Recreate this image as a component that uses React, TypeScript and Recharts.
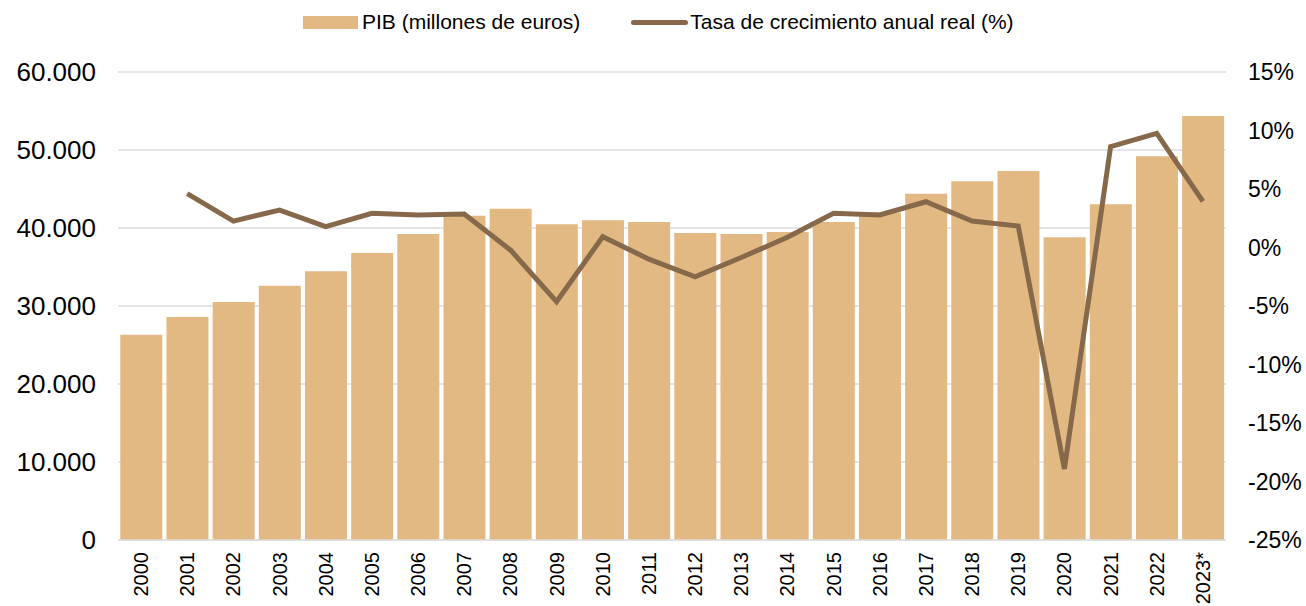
import React from "react";
import {
  ComposedChart,
  Bar,
  Line,
  XAxis,
  YAxis,
  CartesianGrid,
  Legend
} from "recharts";

/* ---------------- DATA ---------------- */

const years = [
  "2000", "2001", "2002", "2003", "2004", "2005", "2006", "2007",
  "2008", "2009", "2010", "2011", "2012", "2013", "2014", "2015",
  "2016", "2017", "2018", "2019", "2020", "2021", "2022", "2023*"
];

// PIB (millones de euros)
const pib = [
  26300, 28600, 30500, 32600, 34450, 36800, 39230, 41580,
  42480, 40470, 40980, 40770, 39360, 39230, 39490, 40770,
  42000, 44400, 45980, 47310, 38800, 43030, 49190, 54360
];

// Tasa de crecimiento anual real (%)
const growth: (number | null)[] = [
  null, 4.6, 2.26, 3.2, 1.78, 2.92, 2.78, 2.86,
  -0.21, -4.63, 0.92, -1.0, -2.5, -0.85, 0.87, 2.92,
  2.78, 3.91, 2.26, 1.84, -18.93, 8.62, 9.76, 3.95
];

const leftTicks = [0, 10000, 20000, 30000, 40000, 50000, 60000];
const rightTicks = [-25, -20, -15, -10, -5, 0, 5, 10, 15];

const data = years.map((year, i) => ({
  year,
  pib: pib[i],
  growth: growth[i]
}));

/* ---------------- STYLE ---------------- */

const BAR_COLOR = "#e3b983";
const LINE_COLOR = "#86694b";
const GRID_COLOR = "#dcdce0";
const FONT = "'Liberation Sans', Arial, sans-serif";

const fmtThousands = (v: number) =>
  v.toLocaleString("de-DE", { maximumFractionDigits: 0 });

/* ---------------- PARTS ---------------- */

function YearTick({ x, y, payload }: any) {
  return (
    <g transform={`translate(${x},${y})`}>
      <text
        transform="rotate(-90)"
        x={-4}
        dy="0.35em"
        textAnchor="end"
        fill="#000"
        fontSize={20}
        fontFamily={FONT}
      >
        {payload.value}
      </text>
    </g>
  );
}

function ChartLegend() {
  return (
    <div
      style={{
        display: "flex",
        alignItems: "center",
        paddingLeft: 303,
        fontFamily: FONT,
        fontSize: 21,
        color: "#000",
        height: 44
      }}
    >
      <span
        style={{ width: 55, height: 13, background: BAR_COLOR, marginRight: 4 }}
      />
      <span>PIB (millones de euros)</span>
      <span
        style={{
          width: 57,
          height: 5,
          borderRadius: 3,
          background: LINE_COLOR,
          marginLeft: 51,
          marginRight: 2
        }}
      />
      <span>Tasa de crecimiento anual real (%)</span>
    </div>
  );
}

/* ---------------- COMPONENT ---------------- */

export default function App() {
  return (
    <div style={{ position: "absolute", left: 0, top: 0, background: "#fff" }}>
      <ComposedChart
        width={1306}
        height={606}
        data={data}
        margin={{ top: 28, right: 0, bottom: 0, left: 0 }}
        barCategoryGap="5%"
      >
        <CartesianGrid
          yAxisId="left"
          vertical={false}
          stroke={GRID_COLOR}
          strokeWidth={1.5}
        />
        <Legend
          verticalAlign="top"
          content={<ChartLegend />}
          wrapperStyle={{ top: 0, left: 0, width: 1306 }}
        />
        <XAxis
          dataKey="year"
          interval={0}
          height={66}
          tick={<YearTick />}
          tickLine={false}
          axisLine={{ stroke: GRID_COLOR, strokeWidth: 1.5 }}
        />
        <YAxis
          yAxisId="left"
          orientation="left"
          width={118}
          domain={[0, 60000]}
          ticks={leftTicks}
          tickFormatter={fmtThousands}
          axisLine={false}
          tickLine={false}
          tickMargin={16}
          tick={{ fill: "#000", fontSize: 26, fontFamily: FONT }}
        />
        <YAxis
          yAxisId="right"
          orientation="right"
          width={80}
          domain={[-25, 15]}
          ticks={rightTicks}
          tickFormatter={(v: number) => `${v}%`}
          axisLine={false}
          tickLine={false}
          tickMargin={16}
          tick={{ fill: "#000", fontSize: 23, fontFamily: FONT }}
        />
        <Bar
          yAxisId="left"
          dataKey="pib"
          fill={BAR_COLOR}
          isAnimationActive={false}
        />
        <Line
          yAxisId="right"
          dataKey="growth"
          stroke={LINE_COLOR}
          strokeWidth={5}
          dot={false}
          activeDot={false}
          connectNulls={false}
          isAnimationActive={false}
        />
      </ComposedChart>
    </div>
  );
}
